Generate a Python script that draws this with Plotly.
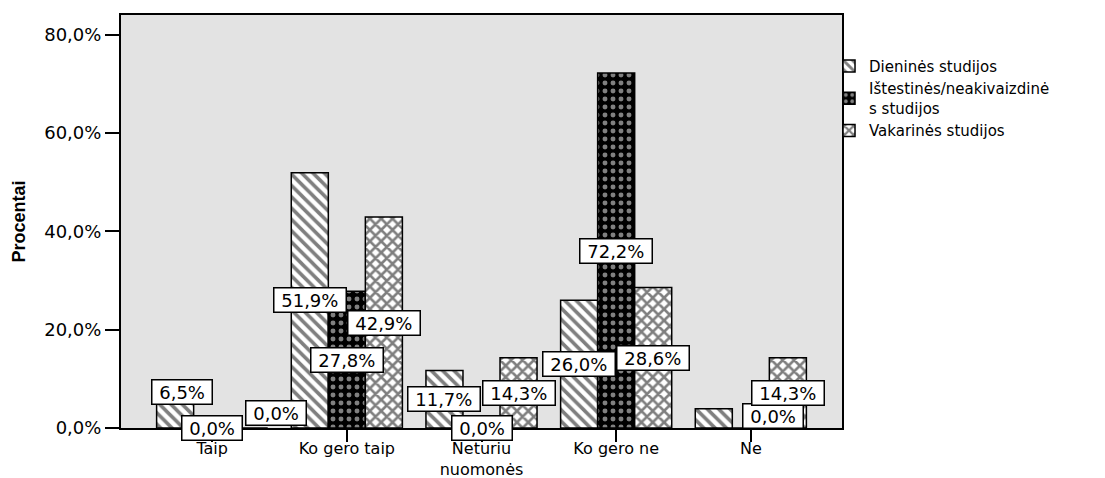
import plotly.graph_objects as go

CATEGORIES = ["Taip", "Ko gero taip", "Neturiu<br>nuomonės", "Ko gero ne", "Ne"]
SERIES_NAMES = [
    "Dieninės studijos",
    "Ištestinės/neakivaizdinė<br>s studijos",
    "Vakarinės studijos",
]
DIENINES = [6.5, 51.9, 11.7, 26.0, 3.9]
ISTESTINES = [0.0, 27.8, 0.0, 72.2, 0.0]
VAKARINES = [0.0, 42.9, 14.3, 28.6, 14.3]
Y_TICKS = [0, 20, 40, 60, 80]
Y_TICK_TEXT = ["0,0%", "20,0%", "40,0%", "60,0%", "80,0%"]

WIDTH, HEIGHT = 1105, 478
# the page body adds an 8px offset, so margins are trimmed by that much
MARGIN = dict(l=113, r=271, t=7, b=58)
X_RANGE = [-0.677, 4.677]
BARGAP = 0.175
FONT = "DejaVu Sans"

PATTERNS = [
    dict(shape="\\", fgcolor="black", bgcolor="white", size=8, solidity=0.45),
    dict(shape=".", fgcolor="white", bgcolor="black", size=8, solidity=0.3),
    dict(shape="x", fgcolor="black", bgcolor="white", size=8, solidity=0.55),
]

# SPSS moved a few labels so they would not collide; (series, category) -> (dx, dy) px
LABEL_NUDGE = {(0, 0): (7, 20), (2, 0): (27, 15), (1, 4): (22, 12)}
HIDDEN_LABELS = {(0, 4)}


def _fmt(v: float) -> str:
    return f" {v:.1f}%".replace(".", ",") + " "


def build_figure() -> go.Figure:
    series = [DIENINES, ISTESTINES, VAKARINES]
    fig = go.Figure()

    for name, values, pattern in zip(SERIES_NAMES, series, PATTERNS):
        fig.add_trace(
            go.Bar(
                x=CATEGORIES,
                y=values,
                name=name,
                marker=dict(
                    color=pattern["bgcolor"],
                    line=dict(color="black", width=1.5),
                    pattern=pattern,
                ),
            )
        )

    # pixel width of one bar, to offset labels onto their bar
    plot_w = WIDTH - MARGIN["l"] - MARGIN["r"]
    cat_px = plot_w / (X_RANGE[1] - X_RANGE[0])
    bar_px = cat_px * (1 - BARGAP) / len(series)

    for i, values in enumerate(series):
        for j, v in enumerate(values):
            if (i, j) in HIDDEN_LABELS:
                continue
            dx, dy = LABEL_NUDGE.get((i, j), (0, 0))
            fig.add_annotation(
                x=CATEGORIES[j],
                y=v / 2,
                text=_fmt(v),
                showarrow=False,
                xshift=(i - 1) * bar_px + dx,
                yshift=dy,
                font=dict(family=FONT, size=18, color="black"),
                bgcolor="white",
                bordercolor="black",
                borderwidth=1.5,
                borderpad=1,
            )

    fig.update_layout(
        width=WIDTH,
        height=HEIGHT,
        margin=MARGIN,
        paper_bgcolor="white",
        plot_bgcolor="#e3e3e3",
        barmode="group",
        bargap=BARGAP,
        bargroupgap=0,
        font=dict(family=FONT, color="black"),
        legend=dict(
            x=0.982,
            y=0.916,
            xanchor="left",
            yanchor="top",
            font=dict(family=FONT, size=15, color="black"),
            bgcolor="rgba(0,0,0,0)",
            tracegroupgap=0,
            itemclick=False,
        ),
    )
    fig.update_xaxes(
        range=X_RANGE,
        automargin=False,
        showline=True,
        mirror=True,
        linecolor="black",
        linewidth=2,
        ticks="outside",
        ticklen=12,
        tickwidth=2,
        tickcolor="black",
        ticklabelstandoff=-7,
        tickfont=dict(family=FONT, size=16, color="black"),
        showgrid=False,
    )
    fig.update_yaxes(
        range=[0, 84],
        automargin=False,
        tickvals=Y_TICKS,
        ticktext=Y_TICK_TEXT,
        showline=True,
        mirror=True,
        linecolor="black",
        linewidth=2,
        ticks="outside",
        ticklen=14,
        tickwidth=2,
        tickcolor="black",
        tickfont=dict(family=FONT, size=18, color="black"),
        showgrid=False,
        zeroline=False,
        title=dict(
            text="Procentai",
            font=dict(family="Liberation Sans", size=18, color="black", weight="bold"),
            standoff=14,
        ),
    )
    return fig


fig = build_figure()
fig.write_html("out.html")
